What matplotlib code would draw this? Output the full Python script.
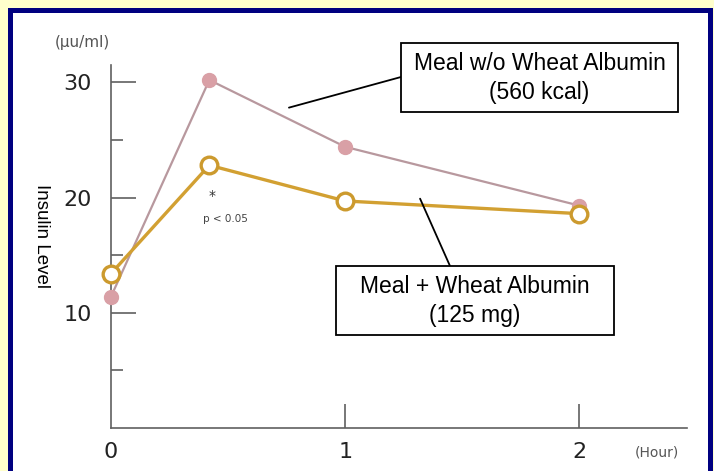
import matplotlib
matplotlib.use("Agg")
import matplotlib.pyplot as plt
from matplotlib.patches import Rectangle

# ---- data ----
hours = [0, 0.42, 1, 2]
without_albumin = [11.4, 30.2, 24.4, 19.3]   # Meal w/o Wheat Albumin (560 kcal)
with_albumin = [13.4, 22.8, 19.7, 18.6]      # Meal + Wheat Albumin (125 mg)
y_major = [10, 20, 30]
y_minor = [5, 15, 25]
x_ticks = [0, 1, 2]
x_ticklabels = ["0", "1", "2"]

W, H = 714, 471
fig = plt.figure(figsize=(W / 100, H / 100), dpi=100)
fig.patch.set_facecolor("#FFFFCC")

def fx(px):
    return px / W

def fy(py):
    return 1 - py / H

# blue frame and white panel
fig.add_artist(Rectangle((fx(8), -0.05), fx(713) - fx(8), fy(8) + 0.05,
                         transform=fig.transFigure, facecolor="#000080",
                         edgecolor="none", zorder=-20))
fig.add_artist(Rectangle((fx(13), -0.05), fx(708) - fx(13), fy(13) + 0.05,
                         transform=fig.transFigure, facecolor="#FFFFFF",
                         edgecolor="none", zorder=-19))

ax = fig.add_axes([fx(111), fy(428), fx(687) - fx(111), fy(65) - fy(428)])
ax.set_facecolor("none")
ax.set_xlim(0, 2.46)
ax.set_ylim(0, 31.5)

for s in ["top", "right"]:
    ax.spines[s].set_visible(False)
for s in ["left", "bottom"]:
    ax.spines[s].set_color("#606060")
    ax.spines[s].set_linewidth(1.2)

ax.plot(hours, without_albumin, color="#B8989E", lw=1.6, marker="o",
        markersize=10, markerfacecolor="#D9A0A6", markeredgecolor="#D9A0A6",
        zorder=3, clip_on=False)
ax.plot(hours, with_albumin, color="#D2A032", lw=2.4, marker="o",
        markersize=12, markerfacecolor="white", markeredgecolor="#CC9A2E",
        markeredgewidth=2.4, zorder=4, clip_on=False)

ax.set_yticks(y_major)
ax.set_yticks(y_minor, minor=True)
ax.set_xticks(x_ticks)
ax.set_xticklabels(x_ticklabels)
ax.tick_params(axis="y", which="major", direction="in", length=18, width=1.2,
               color="#606060", pad=14, labelsize=16, labelcolor="#222222")
ax.tick_params(axis="y", which="minor", direction="in", length=8.5, width=1.2,
               color="#606060")
ax.tick_params(axis="x", which="major", direction="in", length=17, width=1.2,
               color="#606060", pad=10, labelsize=16, labelcolor="#222222")
ax.xaxis.get_major_ticks()[0].tick1line.set_visible(False)
for lab in ax.get_yticklabels() + ax.get_xticklabels():
    lab.set_family("DejaVu Sans")

# significance note
ax.text(0.43, 20.1, "*", ha="center", va="center", fontsize=10, color="#333333")
ax.text(0.49, 18.1, "p < 0.05", ha="center", va="center", fontsize=7.5,
        color="#444444")

# unit labels
fig.text(fx(82), fy(42), "(\u03bcu/ml)", ha="center", va="center",
         fontsize=11, color="#555555", family="DejaVu Sans")
fig.text(fx(657), fy(452), "(Hour)", ha="center", va="center",
         fontsize=10, color="#555555", family="DejaVu Sans")
fig.text(fx(41), fy(236), "Insulin Level", ha="center", va="center",
         rotation=270, fontsize=13.5, color="black", family="Liberation Sans")

# callout boxes
def callout(x0, y0, x1, y1, lines, anchor_px, target):
    fig.add_artist(Rectangle((fx(x0), fy(y1)), fx(x1) - fx(x0), fy(y0) - fy(y1),
                             transform=fig.transFigure, facecolor="white",
                             edgecolor="black", linewidth=1.3, zorder=5))
    fig.text(fx((x0 + x1) / 2), fy((y0 + y1) / 2 + 0.5), "\n".join(lines),
             ha="center", va="center", fontsize=16.5, family="Liberation Sans",
             linespacing=1.3, zorder=6)
    ax.annotate("", xy=target, xycoords="data",
                xytext=(fx(anchor_px[0]), fy(anchor_px[1])),
                textcoords="figure fraction",
                arrowprops=dict(arrowstyle="-", color="black", lw=1.3,
                                shrinkA=0, shrinkB=0), zorder=5)

callout(401, 43, 678, 112, ["Meal w/o Wheat Albumin", "(560 kcal)"],
        (401, 77), (0.76, 27.8))
callout(336, 266, 614, 335, ["Meal + Wheat Albumin", "(125 mg)"],
        (450, 266), (1.32, 19.9))

fig.savefig("out.png", dpi=100, facecolor=fig.get_facecolor())
